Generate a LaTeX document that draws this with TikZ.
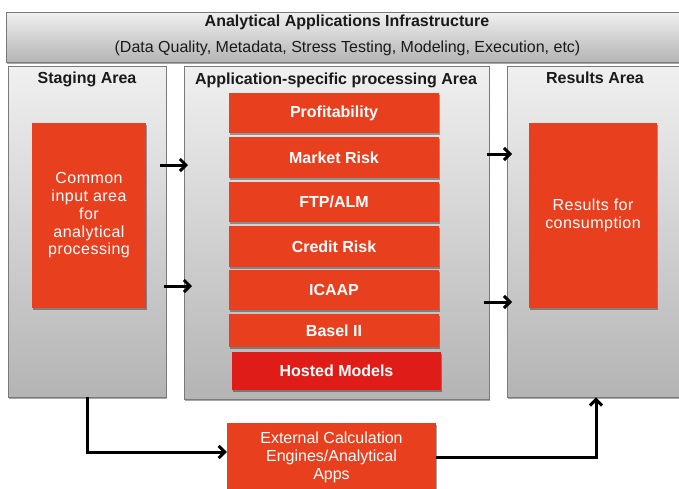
\documentclass[tikz,border=0pt]{standalone}
\usepackage{fontspec}
\setmainfont{Liberation Sans}
\usetikzlibrary{arrows.meta,shadows}
\definecolor{boxred}{HTML}{E8401F}
\definecolor{hostred}{HTML}{DF1C17}
\definecolor{edgegray}{HTML}{7A7A7A}
\definecolor{areatop}{HTML}{F0F0F0}
\definecolor{areabot}{HTML}{B4B4B4}
\definecolor{inktext}{HTML}{1A1A1A}
\begin{document}
\begin{tikzpicture}[x=1pt,y=-1pt,
  shadowed/.style={drop shadow={shadow xshift=1pt,shadow yshift=-1.5pt,opacity=0.35,fill=black}},
  area/.style={shadowed,draw=edgegray,line width=0.8pt,top color=areatop,bottom color=areabot,inner sep=0pt},
  areatitle/.style={font=\bfseries\fontsize{16}{18}\selectfont,text=inktext,inner sep=0pt},
  redbox/.style={shadowed,fill=boxred,draw=none,inner sep=0pt,text=white,align=center},
  listbox/.style={redbox,minimum width=210pt,font=\bfseries\fontsize{16}{18}\selectfont},
  bigtext/.style={font=\addfontfeatures{LetterSpace=3}\fontsize{16}{17.75}\selectfont},
  arr/.style={line width=3pt,-{Straight Barb[length=6pt,width=12pt,line width=3pt]}},
  conn/.style={line width=3pt,line join=miter,-{Straight Barb[length=6pt,width=12pt,line width=3pt]}}
]
\useasboundingbox (0,0) rectangle (679,488);
\clip (0,0) rectangle (679,488);

% top bar
\node[area,minimum width=684pt,minimum height=50pt] (infra) at (348,37) {};
\node[areatitle] (infraT) at (347,22) {Analytical Applications Infrastructure};
\node[font=\fontsize{16}{18}\selectfont,text=inktext,inner sep=0pt] (infraS) at (347.5,48) {(Data Quality, Metadata, Stress Testing, Modeling, Execution, etc)};

% areas
\node[area,minimum width=158pt,minimum height=331pt] (stag) at (87,231.5) {};
\node[area,minimum width=305pt,minimum height=333pt] (app) at (336.5,232.5) {};
\node[area,minimum width=183pt,minimum height=331pt] (res) at (598.5,231.5) {};

\node[areatitle] (stagT) at (87,79) {Staging Area};
\node[areatitle] (appT) at (336,80) {Application-specific processing Area};
\node[areatitle] (resT) at (595,78) {Results Area};

% staging content
\node[redbox,minimum width=114pt,minimum height=185pt,bigtext] (common) at (89,215.5)
  {Common\\input area\\for\\analytical\\processing};

% application list
\node[listbox,minimum height=40pt] (prof) at (334,113) {Profitability};
\node[listbox,minimum height=41pt] (mkt) at (334,157.5) {Market Risk};
\node[listbox,minimum height=40pt] (ftp) at (334,202) {FTP/ALM};
\node[listbox,minimum height=41pt] (cred) at (334,246.5) {Credit Risk};
\node[listbox,minimum height=40pt] (icaap) at (334,290) {ICAAP};
\node[listbox,minimum height=33pt] (basel) at (334,330.5) {Basel II};
\node[listbox,fill=hostred,minimum width=209pt,minimum height=38pt] (hosted) at (336.5,371) {Hosted Models};

% results content
\node[redbox,minimum width=128pt,minimum height=185pt,bigtext] (cons) at (593,215.5)
  {Results for\\consumption};

% external
\node[redbox,minimum width=209pt,minimum height=68pt,font=\fontsize{16}{18}\selectfont] (ext) at (331.5,457)
  {External Calculation\\Engines/Analytical\\Apps};

% arrows between areas
\coordinate (a1s) at (160,165); \coordinate (a1e) at (188,165);
\coordinate (a2s) at (164,286); \coordinate (a2e) at (192,286);
\coordinate (a3s) at (487,154); \coordinate (a3e) at (512,154);
\coordinate (a4s) at (484,302); \coordinate (a4e) at (512,302);
\draw[arr] (a1s) -- (a1e);
\draw[arr] (a2s) -- (a2e);
\draw[arr] (a3s) -- (a3e);
\draw[arr] (a4s) -- (a4e);

% bottom connectors
\draw[conn] (stag.south) |- ([yshift=5pt]ext.west);
\draw[conn] (ext.east) -| ([xshift=-2.5pt]res.south);
\end{tikzpicture}
\end{document}
